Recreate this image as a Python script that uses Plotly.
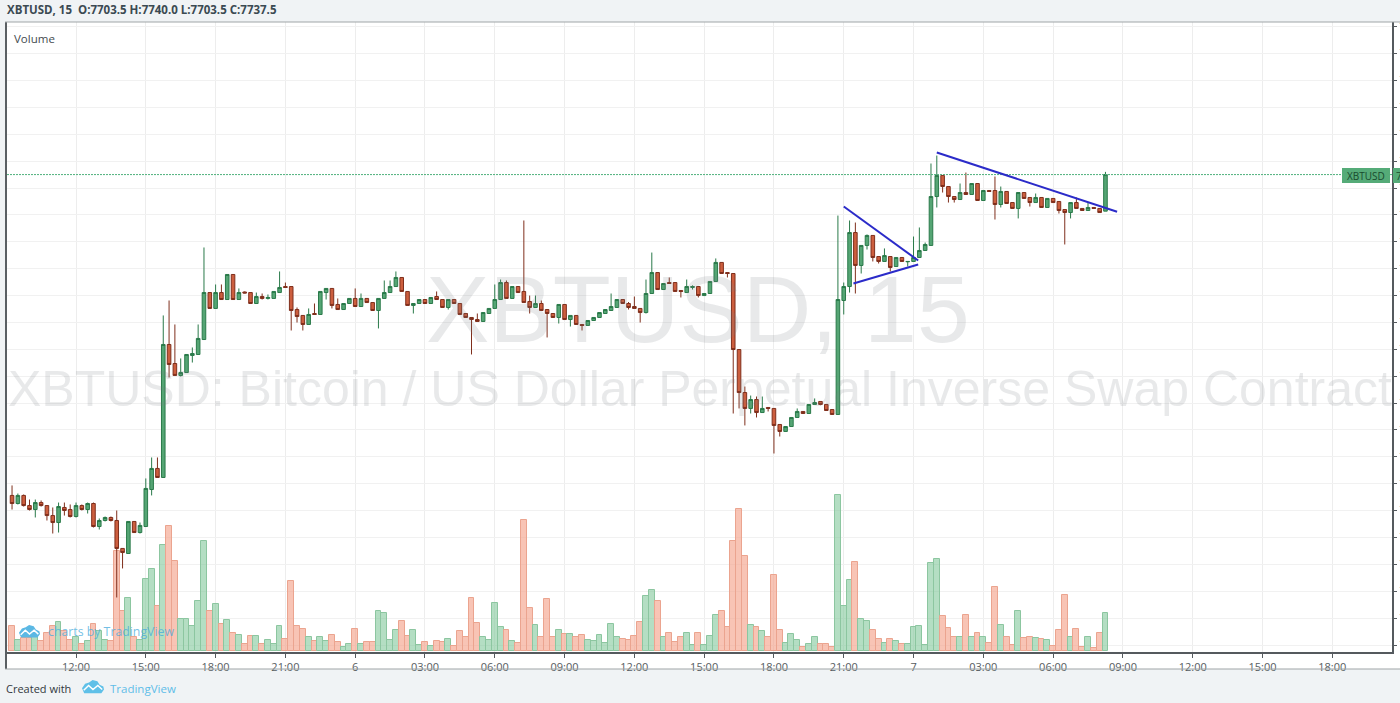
import pandas as pd
import plotly.graph_objects as go

# 15 minute XBTUSD bars
opens = [7439.1,7431.6,7439.1,7429.7,7426,7432.5,7429.7,7420.4,7413.9,7427.9,7426,7419.5,7429.7,7426,7431.6,7410.2,7415.8,7418.6,7415.8,7389.8,
         7385.1,7414.9,7404.6,7410.2,7444.6,7464.2,7455.8,7579.5,7561.8,7550.7,7553.4,7569.3,7570.2,7584.1,7627.8,7613,7627.8,7621.3,7644.6,7621.3,
         7628.3,7627.8,7617.6,7624.1,7622.3,7622.3,7627.8,7633.4,7633.4,7612,7606.5,7598.1,7608.3,7607.4,7627.8,7631.6,7616.7,7612,7617.6,7622.3,
         7614.8,7622.3,7618.5,7611.1,7622.3,7627.8,7633.4,7641.8,7628.8,7615.8,7617.6,7621.3,7617.6,7624.1,7621.3,7613.9,7621.3,7617.6,7608.3,7604.6,
         7602.7,7600.9,7608.3,7613,7621.3,7637.1,7622.3,7633.4,7628.8,7619.5,7613.9,7617.6,7612,7608.3,7604.6,7616.7,7602.7,7606.5,7598.1,7597.2,
         7601.8,7604.6,7608.3,7611.1,7613.9,7621.3,7617.6,7614.8,7613,7609.2,7626.9,7646.4,7630.6,7637.1,7637.1,7629.7,7627.8,7632.5,7633.4,7625,
         7626.9,7638.1,7655.8,7646.4,7645.5,7574.8,7534.8,7520,7528.3,7516.2,7520.9,7520,7505.1,7498.6,7503.2,7511.6,7517.2,7515.3,7523.7,7526.5,
         7523.7,7519,7514.4,7620.4,7633.4,7683.6,7653,7671.6,7680.9,7661.3,7656.7,7661.3,7652,7660.4,7656.4,7656.7,7660.4,7666.9,7671.6,7717.1,
         7736.7,7726.4,7717.1,7714.3,7720.8,7719,7729.2,7713.4,7722.7,7722.7,7709.7,7721.8,7711.5,7706,7720.8,7716.2,7711.5,7716.2,7706.9,7715.3,
         7712.5,7705,7702.2,7711.5,7706,7704.1,7706.9,7706,7703.5]
highs = [7448.4,7440.9,7440,7435.3,7435.3,7434.4,7429.7,7427.9,7432.5,7432.5,7430.7,7432.5,7430.7,7432.5,7432.5,7417.7,7419.5,7419.5,7425.1,7389.8,
         7414.9,7414.9,7413.9,7454.9,7474.4,7474.4,7606.5,7620.4,7598.1,7566.5,7570.2,7576.7,7598.1,7669.7,7627.8,7635.3,7635.3,7644.6,7644.6,7631.6,
         7628.8,7627.8,7627.8,7626.9,7626,7628.8,7647.4,7637.1,7633.4,7613.9,7606.5,7613,7617.6,7628.8,7631.6,7631.6,7622.3,7617.6,7622.3,7631.6,
         7626.9,7622.3,7618.5,7622.3,7639,7639,7647.4,7641.8,7628.8,7617.6,7621.3,7621.3,7623.2,7628.8,7621.3,7621.3,7621.3,7617.6,7608.3,7604.6,
         7608.3,7609.2,7613,7635.3,7639.9,7639,7633.4,7633.4,7694.8,7625,7625,7620.4,7612,7608.3,7616.7,7616.7,7606.5,7606.5,7598.1,7601.8,
         7604.6,7609.2,7612,7626.9,7621.3,7621.3,7619,7624.1,7613,7639.9,7665,7646.4,7636.2,7641.8,7637.1,7629.7,7639.9,7634.5,7633.4,7626.9,
         7638.1,7659.5,7655.8,7646.4,7645.5,7574.8,7540.4,7532,7531.1,7531.1,7520.9,7520,7505.1,7503.2,7511.6,7520,7517.2,7523.7,7529.3,7526.5,
         7523.7,7519,7699.4,7637.1,7694.8,7692.9,7671.6,7681.8,7680.9,7661.3,7668.8,7661.3,7660.4,7660.4,7656.9,7679.9,7688.3,7674.3,7747.8,7755.2,
         7736.7,7726.4,7717.1,7729.2,7739.4,7729.2,7729.2,7722.7,7722.7,7735.7,7726.4,7721.8,7711.5,7720.8,7720.8,7716.2,7719.9,7716.2,7715.3,7715.3,
         7712.5,7705,7711.5,7716.2,7706,7711.5,7706.9,7706,7740]
lows = [7426,7430.7,7428.8,7425.1,7418.6,7428.8,7415.8,7403.7,7404.6,7420.4,7418.6,7418.6,7425.1,7422.3,7409.3,7407.4,7414.9,7414.9,7344.2,7371.2,
        7385.1,7404.6,7403.7,7410.2,7439.1,7455.8,7455.8,7548.8,7550.7,7549.7,7553.4,7562.7,7570.2,7584.1,7613,7613,7621.3,7621.3,7621.3,7621.3,
        7627,7617.6,7617.6,7621.3,7621.3,7622.3,7627.8,7632.5,7592.5,7599.9,7592.5,7598.1,7607.4,7607.4,7621.3,7613,7612,7612,7617.6,7614.8,
        7614.8,7618.5,7611.1,7594.4,7622.3,7627.8,7633.4,7628.8,7615.8,7608.3,7617.6,7617.6,7617.6,7621.3,7613.9,7612,7617.6,7607.4,7604.6,7570.2,
        7600.9,7600.9,7608.3,7613,7621.3,7622.3,7622.3,7627.8,7618.5,7608.3,7613.9,7611.1,7586,7604.6,7599,7602.7,7596.2,7598.1,7592.5,7597.2,
        7601.8,7604.6,7608.3,7611.1,7613.9,7617.6,7612,7613,7599.9,7608.3,7626.9,7630.6,7630.6,7636.2,7628.8,7623.2,7627.8,7630.6,7623.2,7625,
        7626.9,7638.1,7645.5,7641.8,7515.3,7520,7504.2,7515.3,7511.6,7516.2,7517.2,7478.1,7493.9,7498.6,7503.2,7511.6,7515.3,7515.3,7523.7,7523,
        7518.1,7514.4,7514.4,7607.4,7627.8,7626.9,7645.5,7667.8,7656.7,7654.8,7656.7,7647.4,7652,7656.7,7652,7656.7,7660.4,7666.9,7671.6,7706.9,
        7720.8,7711.5,7711.5,7714.3,7719,7719,7713.4,7713.4,7721.8,7695.7,7706.9,7710.6,7706,7696.7,7715.3,7707.8,7711.5,7706.9,7706.9,7711.5,
        7701.3,7672.5,7696.7,7706,7704.1,7704.1,7706,7702.2,7703.5]
closes = [7431.6,7439.1,7429.7,7426,7432.5,7429.7,7420.4,7413.9,7428.8,7425.1,7419.5,7429.7,7426,7431.6,7410.2,7415.8,7418.6,7415.8,7389.8,7386,
          7414.9,7404.6,7411.2,7445.6,7464.2,7455.8,7579.5,7560.9,7550.7,7553.4,7570.2,7571.1,7585.1,7627.8,7613,7627.8,7621.3,7644.6,7621.3,7627.8,
          7627.4,7617.6,7624.1,7622.3,7623.2,7628.8,7632.5,7632.5,7611.1,7605.5,7598.1,7607.4,7607.4,7628.8,7631.6,7615.8,7612,7617.6,7622.3,7614.8,
          7622.3,7618.5,7611.1,7622.3,7627.8,7633.4,7641.8,7628.8,7615.8,7617.6,7621.3,7617.6,7623.2,7621.3,7613.9,7621.3,7617.6,7607.4,7604.6,7602.7,
          7600.9,7609.2,7613,7621.3,7637.1,7622.3,7633.4,7627.8,7618.5,7613.9,7617.6,7611.1,7608.3,7604.6,7616.7,7602.7,7606.5,7598.1,7597.2,7601.8,
          7604.6,7609.2,7612,7614.8,7621.3,7617.6,7613.9,7613,7609.2,7626.9,7646.4,7630.6,7636.2,7636.2,7628.8,7628.8,7633.4,7633.4,7625,7626.9,
          7638.1,7655.8,7645.5,7645.5,7574.8,7534.8,7520,7528.3,7516.2,7520,7520,7504.2,7498.6,7503.2,7511.6,7517.2,7515.3,7523.7,7525.5,7523.7,
          7518.1,7514.4,7621.3,7633.4,7683.6,7653,7671.6,7680.9,7660.4,7656.7,7662.2,7651.1,7660.4,7656.7,7656.7,7660.4,7666.9,7672.5,7717.1,7736.7,
          7726.4,7717.1,7714.3,7720.8,7719,7729.2,7713.4,7722.7,7721.8,7709.7,7721.8,7710.6,7706,7720.8,7715.3,7711.5,7716.2,7706.9,7715.3,7711.5,
          7704.1,7702.2,7711.5,7706,7704.1,7706.9,7706,7702.2,7737.5]
volumes = [25,11,13,13,14,10,18,25,29,20,11,14,7,10,27,20,11,10,100,40,
           53,14,11,72,82,45,106,125,90,32,32,25,50,110,40,47,27,31,18,16,
           7,15,15,7,11,7,25,12,70,25,22,14,10,14,10,16,9,4,7,22,
           7,9,9,40,38,11,21,30,15,21,6,9,5,10,9,12,5,20,14,53,
           28,14,11,48,24,21,10,8,131,43,26,14,52,14,21,17,17,14,16,11,
           10,16,8,27,14,12,11,15,29,55,61,50,14,18,9,14,18,6,18,6,
           15,36,40,24,110,142,95,26,24,20,14,76,21,8,17,11,4,7,14,7,
           7,4,156,45,71,89,32,30,21,12,8,12,10,7,7,24,25,6,88,92,
           35,23,14,14,36,14,18,14,8,64,26,14,6,40,13,14,13,12,11,5,
           21,56,14,22,4,14,3,18,38]

times = pd.date_range("2018-06-05 09:15", periods=len(opens), freq="15min")

# hand drawn trend lines on the chart
trend1_x = ["2018-06-06 21:00", "2018-06-07 00:12"]
trend1_y = [7707.8, 7657.6]
trend2_x = ["2018-06-06 21:25", "2018-06-07 00:12"]
trend2_y = [7636.2, 7653.9]
trend3_x = ["2018-06-07 01:00", "2018-06-07 08:45"]
trend3_y = [7758, 7703]

tick_times = pd.date_range("2018-06-05 12:00", "2018-06-07 18:00", freq="3h")
tick_labels = [str(t.day) if t.hour == 0 else t.strftime("%H:%M") for t in tick_times]
price_ticks = list(range(7300, 7900, 25))

x_range = ["2018-06-05 09:02", "2018-06-07 20:34"]
last_price = closes[-1]

LEFT, RIGHT, TOP, BOTTOM = 7, 1392, 22, 652


def px(x):
    return (x - LEFT) / (RIGHT - LEFT)


def py(y):
    return (BOTTOM - y) / (BOTTOM - TOP)


def label(x, y, text, size, color, anchor="left", **kw):
    return dict(xref="paper", yref="paper", x=px(x), y=py(y), text=text, showarrow=False,
                xanchor=anchor, yanchor="middle", font=dict(size=size, color=color, family=kw.pop("family", "Open Sans")), **kw)


def rect(x0, y0, x1, y1, fill, layer="below", line=None):
    return dict(type="rect", xref="paper", yref="paper", x0=px(x0), x1=px(x1), y0=py(y0), y1=py(y1),
                fillcolor=fill, layer=layer, line=line or dict(width=0))


def logo(x, y, w, color):
    # small cloud mark with a white wave, w is the width in pixels
    pts = [(0, .62), (.14, .28), (.32, .18), (.48, 0), (.7, .1), (.8, .36), (.97, .5), (1, .72), (.88, 1), (.1, 1)]
    wave = [(.08, .78), (.3, .42), (.5, .72), (.72, .42), (.92, .72)]
    h = w * .6
    body = "M" + " L".join(f"{px(x + a * w):.5f},{py(y + b * h):.5f}" for a, b in pts) + " Z"
    line = "M" + " L".join(f"{px(x + a * w):.5f},{py(y + b * h):.5f}" for a, b in wave)
    return [dict(type="path", xref="paper", yref="paper", path=body, fillcolor=color, line=dict(width=0), layer="above"),
            dict(type="path", xref="paper", yref="paper", path=line, line=dict(color="white", width=1.5), layer="above")]


vol_colors = ["rgba(130,200,155,0.6)" if c >= o else "rgba(244,160,135,0.62)" for o, c in zip(opens, closes)]
vol_edges = ["#8cc6a0" if c >= o else "#eba48f" for o, c in zip(opens, closes)]

fig = go.Figure()
fig.add_trace(go.Bar(x=times, y=volumes, marker=dict(color=vol_colors, line=dict(color=vol_edges, width=1)), yaxis="y"))
fig.add_trace(go.Scatter(x=x_range, y=[last_price, last_price], mode="lines", yaxis="y2",
                         line=dict(color="#4fb07c", width=1, dash="2px,1px")))
fig.add_trace(go.Candlestick(x=times, open=opens, high=highs, low=lows, close=closes, yaxis="y2", whiskerwidth=0,
                             increasing=dict(line=dict(color="#2a7a4a", width=1), fillcolor="#55a574"),
                             decreasing=dict(line=dict(color="#7f2f1c", width=1), fillcolor="#cc5e3e")))
for tx, ty in [(trend1_x, trend1_y), (trend2_x, trend2_y), (trend3_x, trend3_y)]:
    fig.add_trace(go.Scatter(x=tx, y=ty, mode="lines", yaxis="y2", line=dict(color="#2b2bc9", width=2)))

shapes = [
    rect(6, 22, 1400, 669, "white"),
    rect(5, 22, 7, 669, "#5a5f63", layer="above"),
    rect(5, 21.5, 1400, 22.5, "#a0a5a8", layer="above"),
    rect(5, 668.5, 1400, 669.5, "#a0a5a8", layer="above"),
    rect(1342, 168, 1390, 183, "#55ab78", layer="above"),
    rect(1393, 168, 1400, 183, "#55ab78", layer="above"),
]
shapes += logo(19, 625, 21, "#5bb8e4") + logo(82, 680, 22, "#5fc0e8")

annotations = [
    label(698, 309, "XBTUSD, 15", 95, "rgba(120,125,130,0.17)", "center", family="Liberation Sans"),
    label(700, 389, "XBTUSD: Bitcoin / US Dollar Perpetual Inverse Swap Contract", 50, "rgba(120,125,130,0.17)", "center", family="Liberation Sans"),
    label(5, 9, "<b>XBTUSD, 15  O:7703.5 H:7740.0 L:7703.5 C:7737.5</b>", 11.5, "#3b4a52"),
    label(12, 38, "Volume", 11.5, "#444b50"),
    label(46, 631, "charts by TradingView", 12.3, "rgba(70,170,220,0.75)"),
    label(4, 688, "Created with", 11, "#33393d"),
    label(108, 688, "TradingView", 11.5, "#5fbde8"),
    label(1366, 175.5, "XBTUSD", 10, "#184a2d", "center"),
    label(1394, 175.5, "7737.5", 10, "#184a2d"),
]

fig.update_layout(
    width=1400, height=703, showlegend=False, bargap=0, boxgap=0.12,
    margin=dict(l=LEFT, r=1400 - RIGHT, t=TOP, b=703 - BOTTOM, autoexpand=False),
    paper_bgcolor="#f0f3f5", plot_bgcolor="rgba(0,0,0,0)",
    font=dict(family="Open Sans"),
    xaxis=dict(type="date", range=x_range, rangeslider=dict(visible=False), tickmode="array", tickvals=tick_times,
               ticktext=tick_labels, showgrid=True, gridcolor="#ededed", gridwidth=1, showline=True, linecolor="#555a5e",
               linewidth=2, ticks="outside", ticklen=4, tickcolor="#555a5e", tickfont=dict(size=11, color="#565c60"), automargin=False),
    yaxis=dict(range=[-1.3, 628.7], visible=False, automargin=False),
    yaxis2=dict(range=[7293.5, 7879.4], overlaying="y", side="right", tickmode="array", tickvals=price_ticks, showgrid=True,
                gridcolor="#f1f1f1", gridwidth=1, zeroline=False, showline=True, linecolor="#555a5e", linewidth=2, ticks="outside",
                ticklen=3, tickcolor="#555a5e", tickfont=dict(size=11, color="#888888"), automargin=False),
    shapes=shapes, annotations=annotations,
)
fig.write_html("out.html", config={"displayModeBar": False},
               post_script="document.body.style.margin='0';document.body.style.overflow='hidden';")
